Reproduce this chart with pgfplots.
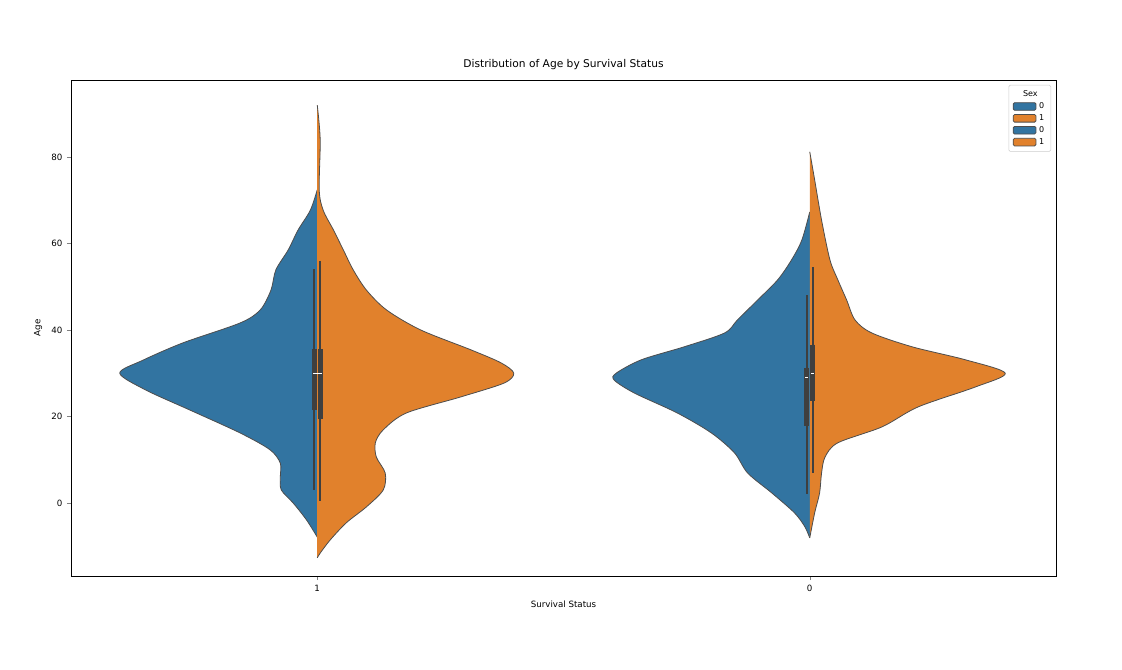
\documentclass[border=0pt]{standalone}
\usepackage{pgfplots}
\pgfplotsset{compat=1.18}
\usepackage{fontspec}
\setmainfont{DejaVu Sans}
\definecolor{sbblue}{HTML}{3274A1}
\definecolor{sborange}{HTML}{E1812C}
\definecolor{edge}{HTML}{4D4D4D}
\definecolor{boxc}{HTML}{3F3F3F}
\begin{document}
\begin{tikzpicture}
\begin{axis}[
  at={(0,0)}, anchor=south west, scale only axis,
  width=738.75pt, height=372pt,
  xmin=-0.5, xmax=1.5, ymin=-16.9, ymax=97.8,
  xtick={0,1}, xticklabels={1,0},
  ytick={0,20,40,60,80},
  tick align=outside, tick pos=left,
  major tick length=3pt,
  /pgf/number format/assume math mode=true,
  tick label style={font=\fontsize{6.5}{8}\selectfont},
  label style={font=\fontsize{6.5}{8}\selectfont},
  title style={font=\fontsize{8}{9}\selectfont, yshift=-2pt},
  title={Distribution of Age by Survival Status},
  xlabel={Survival Status}, ylabel={Age},
  legend style={at={(0.995,0.99)}, anchor=north east, font=\fontsize{6}{7}\selectfont, draw=gray!40, rounded corners=1pt, row sep=-1pt},
  legend cell align=left,
  area legend,
]
\addlegendimage{empty legend}
\addlegendentry{\hspace{-12pt}Sex}
% left violin blue
\addplot[fill=sbblue, draw=edge, line width=0.6pt, smooth, tension=0.5] coordinates {
(0,72.4)(-0.014,67.7)(-0.039,63.1)(-0.059,58.5)(-0.084,53.9)(-0.094,49.2)(-0.116,44.6)(-0.157,41.6)(-0.273,37)(-0.354,33)(-0.401,30)(-0.348,26.1)(-0.259,21.5)(-0.157,16.2)(-0.096,12.3)(-0.075,9.2)(-0.075,6)(-0.073,3)(-0.049,0)(-0.022,-3.9)(0,-7.9)};
\addlegendentry{0}
\addplot[fill=sborange, draw=edge, line width=0.6pt, smooth, tension=0.5] coordinates {
(0,92)(0.006,84)(0.004,72.4)(0.012,67.7)(0.033,63.1)(0.053,58.5)(0.073,53.9)(0.1,49.2)(0.141,44.6)(0.21,40)(0.312,35.4)(0.373,32.4)(0.399,30)(0.379,27.7)(0.291,24.5)(0.181,20.8)(0.134,16.9)(0.118,13.9)(0.12,10.6)(0.138,6.9)(0.134,3)(0.1,-0.9)(0.059,-4.6)(0.026,-8.6)(0.006,-11.6)(0,-12.7)};
\addlegendentry{1}
\addplot[fill=sbblue, draw=edge, line width=0.6pt, smooth, tension=0.5] coordinates {
(1,67.3)(0.984,60.8)(0.963,56.2)(0.935,51.6)(0.894,46.9)(0.853,42.3)(0.827,39.3)(0.745,36.1)(0.658,33.1)(0.607,30)(0.603,28.4)(0.644,25.4)(0.731,20.8)(0.8,16.2)(0.847,11.6)(0.874,6.9)(0.923,2.3)(0.969,-2.3)(0.99,-5.5)(1,-8.1)};
\addlegendentry{0}
\addplot[fill=sborange, draw=edge, line width=0.6pt, smooth, tension=0.5] coordinates {
(1,81.2)(1.01,74.7)(1.024,65.4)(1.041,56.2)(1.057,51.6)(1.075,46.9)(1.092,42.3)(1.126,39.3)(1.208,36.1)(1.316,33.1)(1.397,30)(1.336,26.8)(1.22,22.2)(1.147,17.6)(1.057,13.9)(1.031,10.6)(1.024,6.9)(1.02,2.3)(1.01,-2.3)(1,-8.1)};
\addlegendentry{1}
% boxes left
\addplot[boxc, line width=1.2pt, forget plot] coordinates {(-0.006,54)(-0.006,3)};
\addplot[boxc, line width=1.2pt, forget plot] coordinates {(0.006,56)(0.006,0.5)};
\addplot[boxc, line width=4pt, forget plot] coordinates {(-0.006,35.5)(-0.006,21.5)};
\addplot[boxc, line width=4pt, forget plot] coordinates {(0.006,35.5)(0.006,19.5)};
\addplot[white, line width=0.6pt, forget plot] coordinates {(-0.009,30)(0.009,30)};
% boxes right
\addplot[boxc, line width=1.2pt, forget plot] coordinates {(0.994,48)(0.994,2)};
\addplot[boxc, line width=1.2pt, forget plot] coordinates {(1.006,54.5)(1.006,7)};
\addplot[boxc, line width=4pt, forget plot] coordinates {(0.994,31.2)(0.994,17.7)};
\addplot[boxc, line width=4pt, forget plot] coordinates {(1.006,36.6)(1.006,23.6)};
\addplot[white, line width=0.6pt, forget plot] coordinates {(0.991,29.1)(0.997,29.1)};
\addplot[white, line width=0.6pt, forget plot] coordinates {(1.003,30)(1.009,30)};
\end{axis}
\path[use as bounding box] (-53.25pt,-69.75pt) rectangle (788.25pt,432pt);
\end{tikzpicture}
\end{document}
